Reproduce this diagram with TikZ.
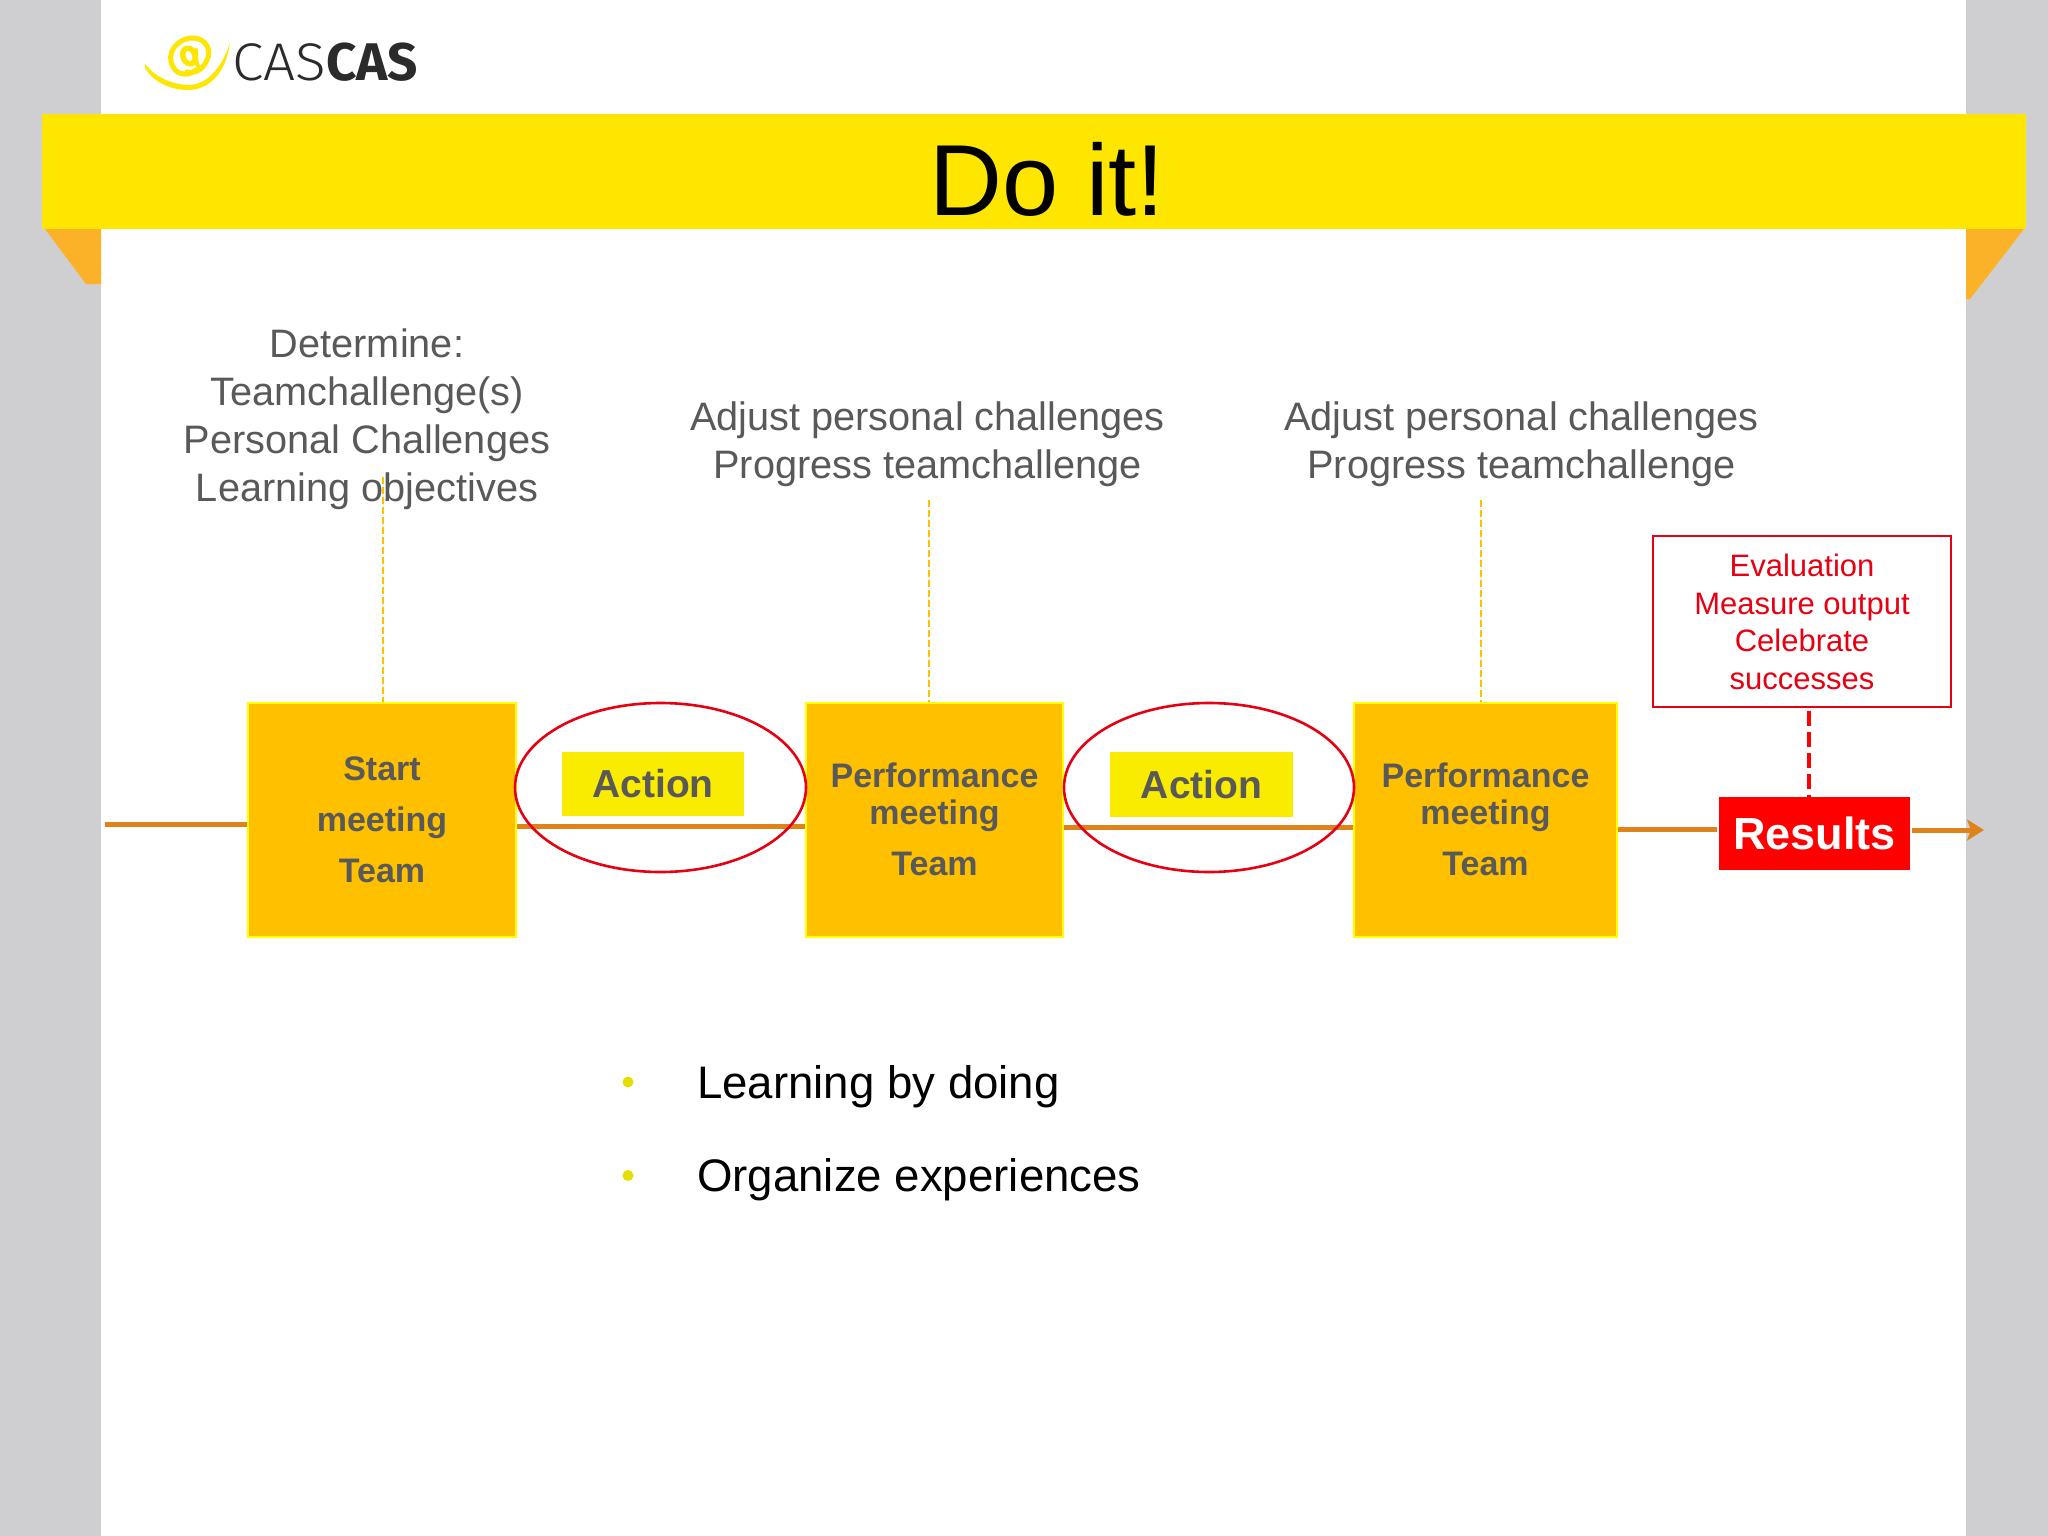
\documentclass[tikz,border=0pt]{standalone}
\usepackage{fontspec}
\setmainfont{Liberation Sans}
\newfontfamily\logofont{Fira Sans Light}
\newfontfamily\logobold{Fira Sans Bold}
\usetikzlibrary{arrows.meta,shapes.geometric}
\definecolor{pagegrey}{HTML}{CFCFD1}
\definecolor{banner}{HTML}{FEE600}
\definecolor{fold}{HTML}{FBB228}
\definecolor{txtgrey}{HTML}{595959}
\definecolor{boxfill}{HTML}{FFC000}
\definecolor{boxedge}{HTML}{FFFF00}
\definecolor{axisc}{HTML}{E0821A}
\definecolor{actfill}{HTML}{F9EC00}
\definecolor{ringred}{HTML}{E60012}
\definecolor{bulletc}{HTML}{E4DD00}
\definecolor{logoink}{HTML}{2B2B2B}
\tikzset{
  px/.style={x=1pt,y=-1pt},
  meetbox/.style={draw=boxedge,fill=boxfill,line width=2.5pt,inner sep=0pt,minimum height=234pt},
  boxtext/.style={text=txtgrey,inner sep=0pt,align=center,font=\fontsize{34}{36.5}\selectfont\bfseries},
  ring/.style={draw=ringred,line width=2.6pt,ellipse,inner sep=0pt,minimum height=169pt},
  actbox/.style={fill=actfill,inner sep=0pt,text=txtgrey,font=\fontsize{39}{44}\selectfont\bfseries},
  notetext/.style={text=txtgrey,align=center,font=\fontsize{39.7}{48}\selectfont,inner sep=0pt},
  axisline/.style={draw=axisc,line width=5pt},
  guide/.style={draw=boxfill,line width=1.3pt,dash pattern=on 7pt off 3pt},
  bulletdot/.style={circle,fill=bulletc,minimum size=11pt,inner sep=0pt},
  bullettext/.style={anchor=west,inner sep=0pt,text=black,font=\fontsize{45.6}{54}\selectfont},
}
\begin{document}
\begin{tikzpicture}[px]
\useasboundingbox (0,0) rectangle (2048,1536);
\fill[white] (0,0) rectangle (2048,1536);
\fill[pagegrey] (0,0) rectangle (101,1536);
\fill[pagegrey] (1966,0) rectangle (2048,1536);
% banner
\fill[fold] (45,229) -- (86,284) -- (101,284) -- (101,229) -- cycle;
\fill[fold] (1966,229) -- (2024,229) -- (1970,299) -- (1966,299) -- cycle;
\fill[banner] (41.5,114) rectangle (2026,229);
\node[inner sep=0pt,text=black,font=\fontsize{101}{115}\selectfont] (title) at (1047,179) {Do it!};
% logo
\fill[banner] (145,64) .. controls (156,78) and (172,84) .. (188,85) .. controls (205,85) and (220,72) .. (230,43) .. controls (226,72) and (210,90) .. (188,90) .. controls (168,90) and (152,80) .. (145,68) -- cycle;
\draw[banner,line width=5pt,line cap=round] (196,70) .. controls (186,78) and (174,74) .. (171,62) .. controls (168,48) and (182,37) .. (194,38) .. controls (206,39) and (212,50) .. (207,60) .. controls (203,70) and (194,74) .. (187,72);
\draw[banner,line width=5.5pt,rotate around={20:(189,56)}] (189,56) ellipse [x radius=6, y radius=8];
\draw[banner,line width=4pt,line cap=round] (196,50) .. controls (196,58) and (196,64) .. (199,68);
\node[anchor=base west,inner sep=0pt,text=logoink,font=\fontsize{53}{60}\selectfont] (logo) at (232,81) {\logofont\scalebox{1.07}[1]{CAS}\logobold\scalebox{1.0}[1]{CAS}};
% boxes
\node[meetbox,minimum width=268pt] (b1) at (382,820) {};
\node[meetbox,minimum width=257pt] (b2) at (934.5,820) {};
\node[meetbox,minimum width=263pt] (b3) at (1485.5,820) {};
\node[inner sep=0pt,fill=red,minimum width=191pt,minimum height=73pt,text=white,font=\fontsize{45}{50}\selectfont\bfseries] (results) at (1814.5,833.5) {\raisebox{-1.3pt}{Results}};
\coordinate (startpt) at (105,824);
\coordinate (endpt) at (1984,830);
\draw[axisline] (startpt) -- (startpt -| b1.west);
\draw[axisline] (b1.east |- 0,826) -- (b2.west |- 0,826);
\draw[axisline] (b2.east |- 0,827) -- (b3.west |- 0,827);
\draw[axisline] (b3.east |- 0,829) -- (1716.5,829);
\draw[axisline,-{Stealth[length=17pt,width=21pt,inset=4pt]}] (1912,830) -- (endpt);
\node[ring,minimum width=291pt] (e1) at (660.5,787.5) {};
\node[ring,minimum width=290pt] (e2) at (1209,787.5) {};
\node[actbox,minimum width=182pt,minimum height=64pt] (a1) at (653,784) {\raisebox{-1.3pt}{Action}};
\node[actbox,minimum width=183pt,minimum height=65pt] (a2) at (1201.5,784.5) {\raisebox{-1.3pt}{Action}};
\node[boxtext,font=\fontsize{34}{51}\selectfont\bfseries] (s1) at (b1.center |- 0,820) {Start\\meeting\\Team};
\node[boxtext] (s2) at (b2.center |- 0,819.5) {Performance\\meeting\\[14.5pt]Team};
\node[boxtext] (s3) at (b3.center |- 0,819.5) {Performance\\meeting\\[14.5pt]Team};
% notes
\node[notetext] (n1) at (367,419.5) {Determine:\\Teamchallenge(s)\\Personal Challenges\\Learning objectives};
\node[notetext] (n2) at (927.5,444.5) {Adjust personal challenges\\Progress teamchallenge};
\node[notetext] (n3) at (1521.5,444.5) {Adjust personal challenges\\Progress teamchallenge};
\coordinate (g1) at (383,477);
\coordinate (g2) at (929,500);
\coordinate (g3) at (1481,500);
\draw[guide] (g1) -- (g1 |- b1.north);
\draw[guide] (g2) -- (g2 |- b2.north);
\draw[guide] (g3) -- (g3 |- b3.north);
% evaluation
\node[draw=ringred,line width=2.5pt,fill=white,minimum width=298pt,minimum height=171pt,inner sep=0pt,text=ringred,align=center,font=\fontsize{31}{38}\selectfont] (ev) at (1802,621.5) {\raisebox{-1pt}{Evaluation}\\\raisebox{-1pt}{Measure output}\\Celebrate\\successes};
\coordinate (evb) at (1809,711);
\draw[draw=red,line width=4.5pt,dash pattern=on 15pt off 6pt] (evb) -- (evb |- results.north);
% bullets
\node[bulletdot] (d1) at (628,1082) {};
\node[bulletdot] (d2) at (628,1175.5) {};
\node[bullettext] (t1) at (697,1087) {Learning by doing};
\node[bullettext] (t2) at (697,1180) {Organize experiences};
\end{tikzpicture}
\end{document}
